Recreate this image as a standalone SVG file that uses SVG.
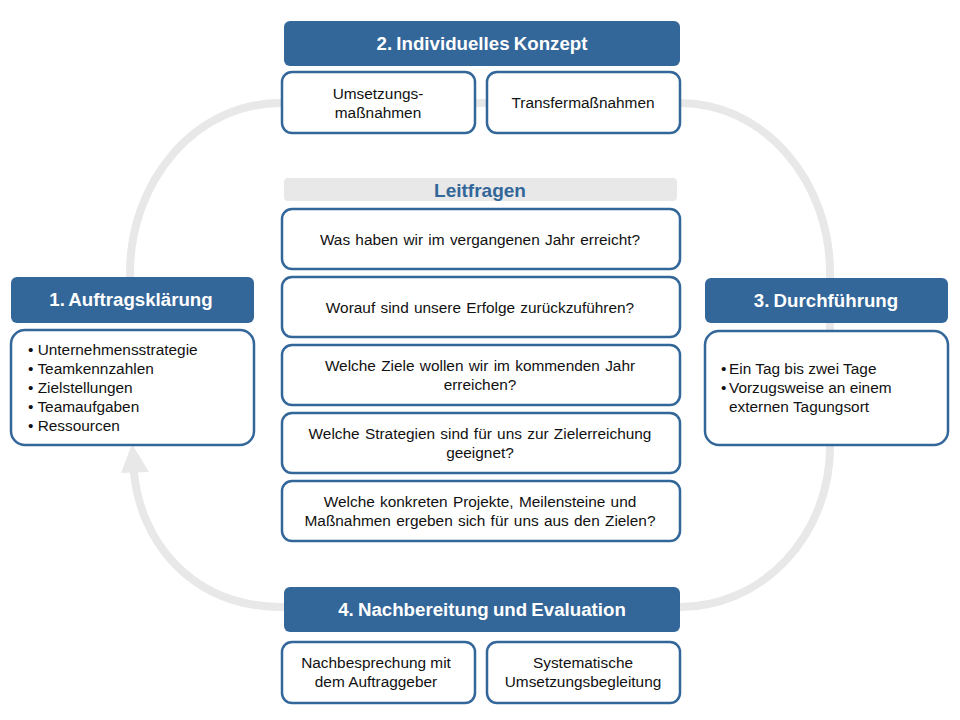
<svg xmlns="http://www.w3.org/2000/svg" width="960" height="720" viewBox="0 0 960 720">
<style>
.hdr{fill:#336699;}
.box{fill:#fff;stroke:#336699;stroke-width:2.5;}
.ht{font-family:"Liberation Sans",Arial,sans-serif;font-weight:bold;font-size:18.7px;word-spacing:-1px;fill:#fff;text-anchor:middle;}
.t{font-family:"Liberation Sans",Arial,sans-serif;font-size:15.4px;fill:#111;}
.q{word-spacing:1px;}
.c{text-anchor:middle;}
.ring{fill:none;stroke:#e8e8e8;stroke-width:8;}
</style>
<rect width="960" height="720" fill="#fff"/>
<g id="connectors">
<path class="ring" d="M 134 472 C 140 540 190 606 280 607 L 680 607 A 150 160 0 0 0 830 447 L 830 273 A 150 170 0 0 0 680 103 L 280 103 A 150 170 0 0 0 130 273 L 130 300"/>
<polygon points="121,473 149,472 132,444" fill="#e8e8e8"/>
</g>
<g id="n2">
<rect class="hdr" x="284" y="21" width="396" height="45" rx="6"/>
<text class="ht" x="482" y="50">2. Individuelles Konzept</text>
</g>
<g id="n2a">
<rect class="box" x="282" y="72" width="193" height="61" rx="10"/>
<text class="t c" x="378" y="99">Umsetzungs-</text>
<text class="t c" x="378" y="118">maßnahmen</text>
</g>
<g id="n2b">
<rect class="box" x="487" y="72" width="193" height="61" rx="10"/>
<text class="t c" x="583" y="108">Transfermaßnahmen</text>
</g>
<g id="leit">
<rect x="284" y="178" width="393" height="23" rx="4" fill="#e8e8e8"/>
<text x="480" y="197" font-family="Liberation Sans, Arial, sans-serif" font-weight="bold" font-size="19" fill="#336699" text-anchor="middle">Leitfragen</text>
</g>
<g id="q1">
<rect class="box" x="282" y="209" width="398" height="60" rx="10"/>
<text class="t c q" x="480" y="245">Was haben wir im vergangenen Jahr erreicht?</text>
</g>
<g id="q2">
<rect class="box" x="282" y="277" width="398" height="60" rx="10"/>
<text class="t c q" x="480" y="313">Worauf sind unsere Erfolge zurückzuführen?</text>
</g>
<g id="q3">
<rect class="box" x="282" y="345" width="398" height="60" rx="10"/>
<text class="t c q" x="480" y="371">Welche Ziele wollen wir im kommenden Jahr</text>
<text class="t c q" x="480" y="390">erreichen?</text>
</g>
<g id="q4">
<rect class="box" x="282" y="413" width="398" height="60" rx="10"/>
<text class="t c q" x="480" y="439">Welche Strategien sind für uns zur Zielerreichung</text>
<text class="t c q" x="480" y="458">geeignet?</text>
</g>
<g id="q5">
<rect class="box" x="282" y="481" width="398" height="60" rx="10"/>
<text class="t c q" x="480" y="507">Welche konkreten Projekte, Meilensteine und</text>
<text class="t c q" x="480" y="526">Maßnahmen ergeben sich für uns aus den Zielen?</text>
</g>
<g id="n1">
<rect class="hdr" x="11" y="277" width="243" height="46" rx="6"/>
<text class="ht" x="131" y="306">1. Auftragsklärung</text>
</g>
<g id="n1a">
<rect class="box" x="11" y="330" width="243" height="115" rx="14"/>
<text class="t" x="28" y="355">• Unternehmensstrategie</text>
<text class="t" x="28" y="374">• Teamkennzahlen</text>
<text class="t" x="28" y="393">• Zielstellungen</text>
<text class="t" x="28" y="412">• Teamaufgaben</text>
<text class="t" x="28" y="431">• Ressourcen</text>
</g>
<g id="n3">
<rect class="hdr" x="705" y="278" width="243" height="45" rx="6"/>
<text class="ht" x="826" y="307">3. Durchführung</text>
</g>
<g id="n3a">
<rect class="box" x="705" y="331" width="243" height="114" rx="14"/>
<text class="t" x="721" y="374">•</text>
<text class="t" x="729" y="374">Ein Tag bis zwei Tage</text>
<text class="t" x="721" y="393">•</text>
<text class="t" x="729" y="393">Vorzugsweise an einem</text>
<text class="t" x="729" y="412">externen Tagungsort</text>
</g>
<g id="n4">
<rect class="hdr" x="284" y="587" width="396" height="45" rx="6"/>
<text class="ht" x="482" y="616">4. Nachbereitung und Evaluation</text>
</g>
<g id="n4a">
<rect class="box" x="282" y="642" width="193" height="61" rx="10"/>
<text class="t c" x="376" y="668">Nachbesprechung mit</text>
<text class="t c" x="376" y="687">dem Auftraggeber</text>
</g>
<g id="n4b">
<rect class="box" x="487" y="642" width="193" height="61" rx="10"/>
<text class="t c" x="583" y="668">Systematische</text>
<text class="t c" x="583" y="687">Umsetzungsbegleitung</text>
</g>
</svg>
